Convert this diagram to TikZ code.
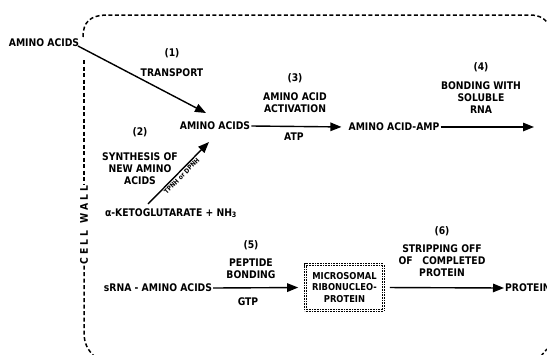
\documentclass[tikz,border=0pt]{standalone}
\usepackage{fontspec}
\setmainfont{DejaVu Sans}[FakeStretch=0.88]
\usetikzlibrary{arrows.meta, positioning, calc}
\tikzstyle{arrow}=[-{Triangle[length=11pt,width=8.5pt]}, line width=1.4pt, color=black]
\tikzstyle{wall}=[line width=1.5pt, dash pattern=on 4pt off 2.5pt]

\begin{document}
\begin{tikzpicture}[x=1pt, y=-1pt,
  txt/.style={font=\bfseries\fontsize{10.5}{12}\selectfont, align=center, inner sep=1pt},
  tiny/.style={font=\bfseries\fontsize{6.5}{7}\selectfont, inner sep=1.5pt},
  rnp/.style={rectangle, draw, densely dotted, line width=0.6pt, double distance=1.6pt,
              minimum width=78pt, minimum height=46pt, align=center,
              font=\bfseries\fontsize{9.5}{11.5}\selectfont}
]
\useasboundingbox (0,0) rectangle (547,354);

% Cell wall
\node[txt, rotate=90, font=\bfseries\fontsize{10.5}{12}\selectfont\addfontfeature{LetterSpace=30}] (cellwall) at (84,225) {CELL WALL};
\draw[wall] (83,37) .. controls (83,22) and (90,15) .. (108,15) -- (530,15)
            .. controls (540,15) and (546,19) .. (550,27);
\draw[wall] (84,60) -- (cellwall.east);
\draw[wall] (cellwall.west) -- (84,332) .. controls (84,344) and (88,350) .. (94,356);
\draw[wall] (541,356) -- (547,349);

% Transport and synthesis
\node[txt] (aa_out) at (44,43) {AMINO ACIDS};
\node[txt] (lbl1) at (172,63) {(1)\\[8pt]TRANSPORT};
\node[txt] (aa_in) at (215,126) {AMINO ACIDS};
\coordinate (tip1) at (206,113);
\draw[arrow] (78,46) -- (tip1);

\node[txt] (lbl2) at (140,156) {(2)\\[13pt]SYNTHESIS OF\\NEW AMINO\\ACIDS};
\node[txt] (keto) at (171,213) {α-KETOGLUTARATE + NH\textsubscript{3}};
\coordinate (tail2) at (148,204);
\coordinate (tip2) at (209,142);
\draw[arrow] (tail2) -- node[tiny, sloped, below, pos=0.5] (cofac) {TPNH or DPNH} (tip2);

% Activation and bonding with sRNA
\node[txt] (amp) at (394,127) {AMINO ACID-AMP};
\draw[arrow, shorten >=6pt] (aa_in.east) -- (amp.west);
\node[txt] (lbl3) at (295,93) {(3)\\[7pt]AMINO ACID\\ACTIVATION};
\node[txt] (atp) at (294,137) {ATP};

\coordinate (tip4) at (534,127);
\draw[arrow] (amp.east) -- (tip4);
\node[txt] (lbl4) at (481,88) {(4)\\[7pt]BONDING WITH\\SOLUBLE\\RNA};

% Peptide bonding
\node[txt] (srna) at (158,288) {sRNA - AMINO ACIDS};
\node[rnp] (mrnp) at (344.5,287.5) {MICROSOMAL\\RIBONUCLEO-\\PROTEIN};
\draw[arrow, shorten >=7pt] (srna.east) -- (mrnp.west);
\node[txt] (lbl5) at (251,260) {(5)\\[6pt]PEPTIDE\\BONDING};
\node[txt] (gtp) at (248,302) {GTP};

\node[txt, anchor=west] (prot) at (504,288) {PROTEIN};
\draw[arrow, shorten <=6pt] (mrnp.east) -- (prot.west);
\node[txt] (lbl6) at (442,252) {(6)\\[6pt]STRIPPING OFF\\OF~~~COMPLETED\\PROTEIN};
\end{tikzpicture}
\end{document}
